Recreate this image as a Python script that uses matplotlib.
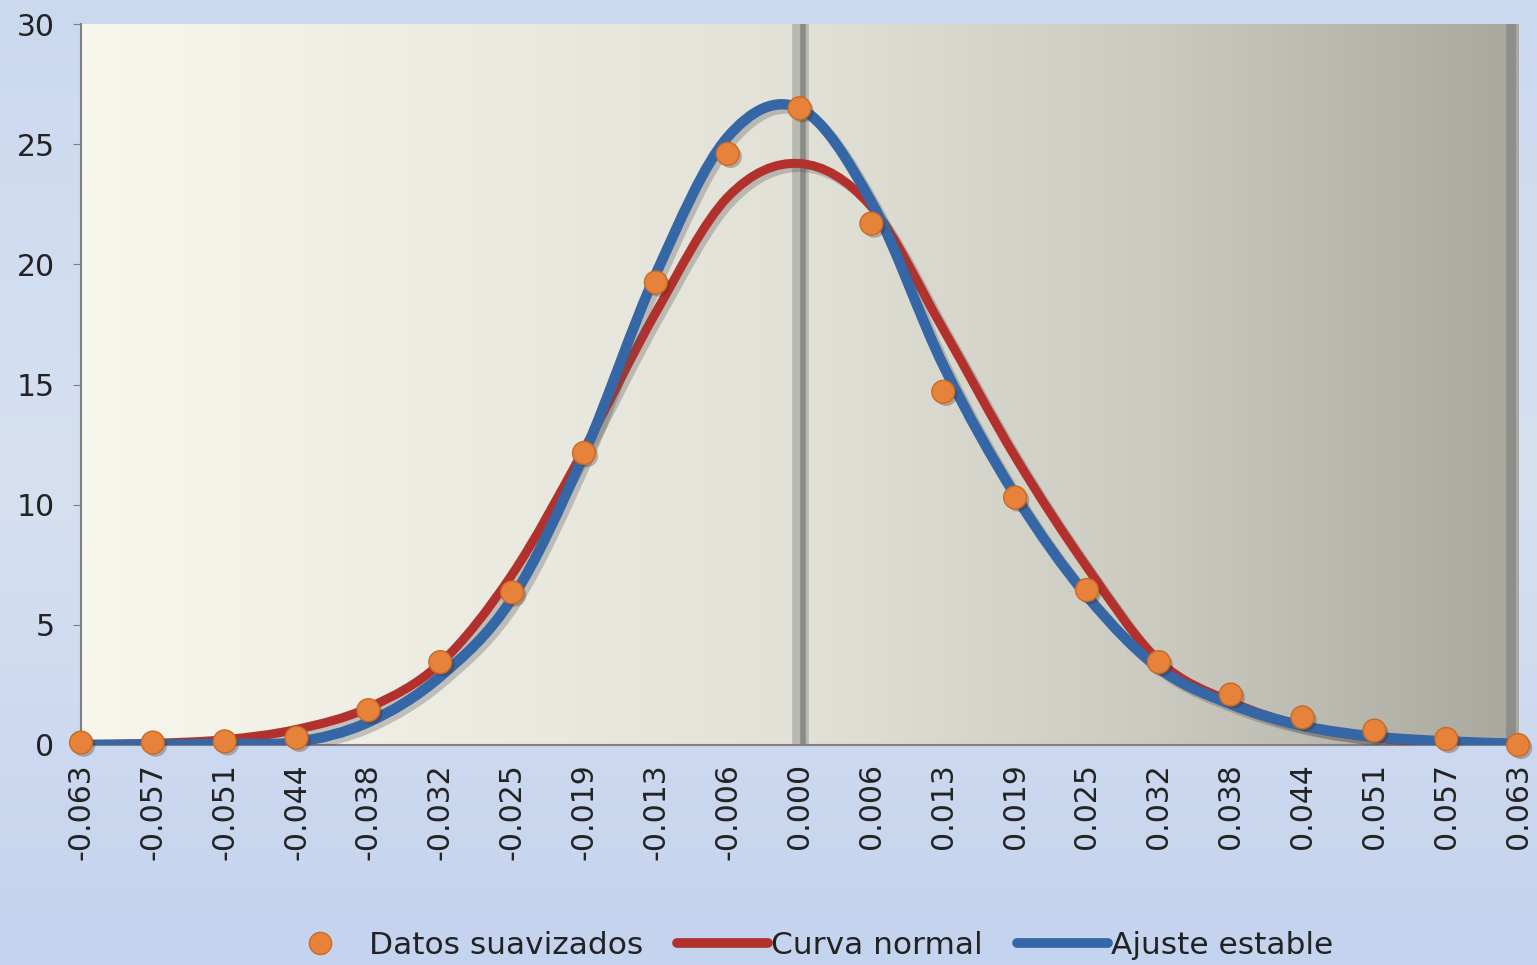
import numpy as np
import matplotlib.pyplot as plt
from matplotlib.path import Path
from matplotlib.patches import PathPatch
from matplotlib.lines import Line2D
from matplotlib.colors import LinearSegmentedColormap
import matplotlib.patheffects as pe

# === Data ===
x_labels = ["-0.063", "-0.057", "-0.051", "-0.044", "-0.038", "-0.032", "-0.025",
            "-0.019", "-0.013", "-0.006", "0.000", "0.006", "0.013", "0.019",
            "0.025", "0.032", "0.038", "0.044", "0.051", "0.057", "0.063"]
datos = [0.1, 0.1, 0.15, 0.3, 1.45, 3.45, 6.35, 12.15, 19.25, 24.6, 26.5,
         21.7, 14.7, 10.3, 6.45, 3.45, 2.1, 1.15, 0.6, 0.25, 0.0]
normal = [0.02, 0.07, 0.22, 0.65, 1.55, 3.4, 7.1, 12.3, 18.0, 22.8, 24.2,
          22.4, 17.3, 12.0, 7.4, 3.5, 1.8, 0.8, 0.3, 0.08, 0.02]
estable = [0.0, 0.02, 0.05, 0.12, 0.95, 2.85, 6.1, 12.1, 19.6, 25.3, 26.5,
           22.6, 15.8, 10.4, 6.2, 3.2, 1.7, 0.8, 0.35, 0.15, 0.05]

pos = np.arange(len(x_labels))

# === Colours ===
c_dots = "#e6823a"
c_red = "#b3312c"
c_blue = "#3566a6"


def smooth_path(xs, ys):
    # Excel-like smoothed line: cubic bezier through the points
    p = np.column_stack([xs, ys]).astype(float)
    n = len(p)
    verts = [p[0]]
    codes = [Path.MOVETO]
    for i in range(n - 1):
        p0 = p[i - 1] if i > 0 else p[i]
        p1, p2 = p[i], p[i + 1]
        p3 = p[i + 2] if i + 2 < n else p[i + 1]
        verts += [p1 + (p2 - p0) / 6, p2 - (p3 - p1) / 6, p2]
        codes += [Path.CURVE4] * 3
    return Path(verts, codes)


fig = plt.figure(figsize=(15.37, 9.65), dpi=100)

# figure background (light blue gradient)
bg = fig.add_axes([0, 0, 1, 1], zorder=-10)
bg_cmap = LinearSegmentedColormap.from_list("bg", ["#cbd9ef", "#d6e0f1", "#c4d3ee"])
bg.imshow(np.linspace(0, 1, 256).reshape(-1, 1), cmap=bg_cmap, aspect="auto",
          extent=[0, 1, 0, 1])
bg.axis("off")

ax = fig.add_axes([0.0527, 0.228, 0.935, 0.747])
ax.set_facecolor("none")

# plot area gradient (cream -> gray)
pa_cmap = LinearSegmentedColormap.from_list(
    "pa", [(0, "#f8f7ee"), (0.5, "#e2e1d8"), (0.75, "#cacac0"), (1.0, "#a8a89e")])
ax.imshow(np.linspace(0, 1, 512).reshape(1, -1), cmap=pa_cmap, aspect="auto",
          extent=[0, 1, 0, 1], transform=ax.transAxes, zorder=0)

# gray vertical bars at 0 and at the right edge
ax.axvline(10, color="#b9b9b3", lw=12, zorder=1)
ax.axvline(10.05, color="#8a8a86", lw=4, zorder=1)
ax.axvline(19.9, color="#8e8e88", lw=7, zorder=1)

shadow = [pe.SimpleLineShadow(offset=(3, -3), shadow_color="#555555", alpha=0.3),
          pe.Normal()]

for ys, col, lw in [(normal, c_red, 6.5), (estable, c_blue, 7.5)]:
    patch = PathPatch(smooth_path(pos, ys), facecolor="none", edgecolor=col,
                      lw=lw, capstyle="round", joinstyle="round", zorder=3)
    patch.set_path_effects(shadow)
    ax.add_patch(patch)

ax.scatter(pos, datos, s=270, color=c_dots, edgecolors="#c96a25", linewidths=1,
           zorder=5, clip_on=False,
           path_effects=[pe.SimplePatchShadow(offset=(2, -2), alpha=0.3), pe.Normal()])

ax.set_xlim(0, 20)
ax.set_ylim(0, 30)
ax.set_yticks(range(0, 31, 5))
ax.set_xticks(pos, x_labels, rotation=90)

for s in ["top", "right"]:
    ax.spines[s].set_visible(False)
for s in ["left", "bottom"]:
    ax.spines[s].set_color("#7f7f7f")
    ax.spines[s].set_linewidth(1.5)

ax.tick_params(axis="y", length=6, color="#7f7f7f", pad=13, labelsize=21.5,
               labelcolor="#222222")
ax.tick_params(axis="x", length=0, pad=13, labelsize=21.5, labelcolor="#222222")

handles = [
    Line2D([], [], ls="none", marker="o", ms=16, color=c_dots, markeredgecolor="#c96a25"),
    Line2D([], [], color=c_red, lw=7, solid_capstyle="round"),
    Line2D([], [], color=c_blue, lw=7, solid_capstyle="round"),
]
fig.legend(handles, ["Datos suavizados", "Curva normal", "Ajuste estable"],
           loc="center", bbox_to_anchor=(0.523, 1 - 945 / 965), ncol=3,
           frameon=False, handlelength=2.9, handletextpad=0.1,
           columnspacing=1.1, fontsize=22.5, labelcolor="#222222")

fig.savefig("out.png", dpi=100)
